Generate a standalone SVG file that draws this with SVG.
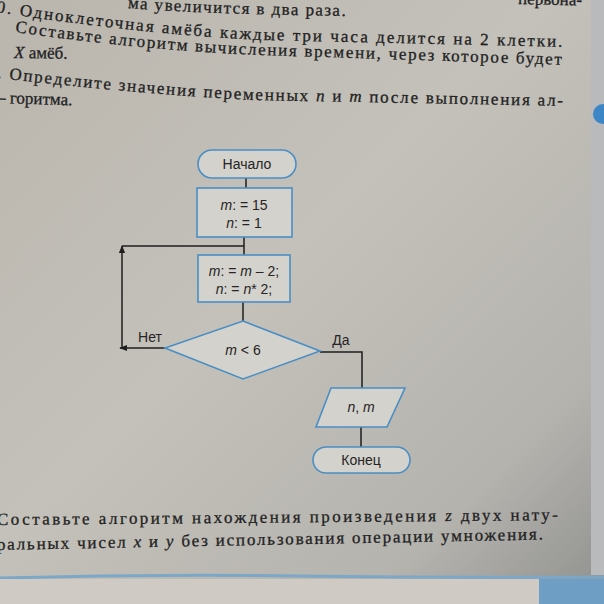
<svg xmlns="http://www.w3.org/2000/svg" width="604" height="604" viewBox="0 0 604 604">
<defs>
<linearGradient id="bg" x1="0" y1="0" x2="1" y2="1">
<stop offset="0" stop-color="#bab6ae"/>
<stop offset="0.45" stop-color="#c4c1ba"/>
<stop offset="0.8" stop-color="#b5b3ae"/>
<stop offset="1" stop-color="#8f908e"/>
</linearGradient>
<marker id="arr" viewBox="0 0 10 10" refX="9" refY="5" markerWidth="8" markerHeight="8" orient="auto" markerUnits="userSpaceOnUse">
<path d="M0,1 L10,5 L0,9 Z" fill="#1e1e1e"/>
</marker>
<path id="p0" d="M128,8 Q200,14 350,16"/>
<path id="p0b" d="M518,4 L604,6"/>
<path id="p1" d="M-4,12 Q140,34 260,40 L570,47"/>
<path id="p2" d="M15,32 Q140,50 260,55 L570,65"/>
<path id="p3" d="M14,58 L90,59"/>
<path id="p4" d="M-3,78 Q140,94 250,100 L570,106"/>
<path id="p5" d="M-3,103 L95,106"/>
<path id="p6" d="M-3,525 L570,520"/>
<path id="p7" d="M-3,550 L570,539"/>
<style>
.page{font-family:"Liberation Serif","DejaVu Serif",serif;font-size:17px;fill:#221f1f;stroke:#221f1f;stroke-width:0.3}
.shape{fill:#d4d2cc;stroke:#4a8ec4;stroke-width:1.6}
.lbl{font-family:"Liberation Sans",Arial,sans-serif;font-size:14px;fill:#262424;text-anchor:middle}
.it{font-style:italic}
.ln{fill:none;stroke:#1e1e1e;stroke-width:1.5}
</style>
</defs>
<rect width="604" height="604" fill="url(#bg)"/>
<rect x="591" y="0" width="13" height="575" fill="#b8babb"/>
<circle cx="603" cy="114" r="10" fill="#3d86c6"/>
<path d="M0,578 Q150,574 300,576 T604,577" fill="none" stroke="#7da7c6" stroke-width="3"/>
<rect x="0" y="579" width="539" height="25" fill="#cfcac3"/>
<rect x="539" y="579" width="65" height="25" fill="#6f9ec5"/>

<g id="page-text">
<text class="page"><textPath href="#p0" textLength="218" lengthAdjust="spacing">ма увеличится в два раза.</textPath></text>
<text class="page"><textPath href="#p0b">первона-</textPath></text>
<text class="page"><textPath href="#p1" textLength="568" lengthAdjust="spacing">0. Одноклеточная амёба каждые три часа делится на 2 клетки.</textPath></text>
<text class="page"><textPath href="#p2" textLength="548" lengthAdjust="spacing">Составьте алгоритм вычисления времени, через которое будет</textPath></text>
<text class="page"><textPath href="#p3"><tspan class="it">X</tspan> амёб.</textPath></text>
<text class="page"><textPath href="#p4" textLength="567" lengthAdjust="spacing">. Определите значения переменных <tspan class="it">n</tspan> и <tspan class="it">m</tspan> после выполнения ал-</textPath></text>
<text class="page"><textPath href="#p5">– горитма.</textPath></text>
<text class="page"><textPath href="#p6" textLength="561" lengthAdjust="spacing">Составьте алгоритм нахождения произведения <tspan class="it">z</tspan> двух нату-</textPath></text>
<text class="page"><textPath href="#p7" textLength="546" lengthAdjust="spacing">ральных чисел <tspan class="it">x</tspan> и <tspan class="it">y</tspan> без использования операции умножения.</textPath></text>
</g>

<g id="connectors">
<line class="ln" x1="246" y1="178" x2="246" y2="188"/>
<line class="ln" x1="244" y1="237" x2="244" y2="255"/>
<line class="ln" x1="244" y1="246" x2="122" y2="246"/>
<line class="ln" x1="122" y1="348" x2="122" y2="246" marker-end="url(#arr)"/>
<line class="ln" x1="165" y1="348" x2="120" y2="348" marker-end="url(#arr)"/>
<line class="ln" x1="243" y1="302" x2="243" y2="321"/>
<polyline class="ln" points="320,352 362,352 362,388"/>
<line class="ln" x1="361" y1="427" x2="361" y2="447"/>
<text class="lbl" x="150" y="342">Нет</text>
<text class="lbl" x="341" y="345">Да</text>
</g>

<g id="start">
<rect class="shape" x="198" y="150" width="98" height="28" rx="14"/>
<text class="lbl" x="247" y="169">Начало</text>
</g>
<g id="init">
<rect class="shape" x="197" y="188" width="95" height="49"/>
<text class="lbl" x="244" y="210"><tspan class="it">m</tspan>: = 15</text>
<text class="lbl" x="244" y="228"><tspan class="it">n</tspan>: = 1</text>
</g>
<g id="update">
<rect class="shape" x="198" y="255" width="92" height="47"/>
<text class="lbl" x="244" y="276"><tspan class="it">m</tspan>: = <tspan class="it">m</tspan> – 2;</text>
<text class="lbl" x="244" y="294"><tspan class="it">n</tspan>: = <tspan class="it">n</tspan>* 2;</text>
</g>
<g id="cond">
<polygon class="shape" points="243,321 320,351 243,379 165,348"/>
<text class="lbl" x="243" y="355"><tspan class="it">m</tspan> &lt; 6</text>
</g>
<g id="output">
<polygon class="shape" points="331,388 405,388 387,427 316,427"/>
<text class="lbl" x="361" y="412"><tspan class="it">n</tspan>, <tspan class="it">m</tspan></text>
</g>
<g id="end">
<rect class="shape" x="313" y="447" width="97" height="26" rx="13"/>
<text class="lbl" x="361" y="465">Конец</text>
</g>
</svg>
